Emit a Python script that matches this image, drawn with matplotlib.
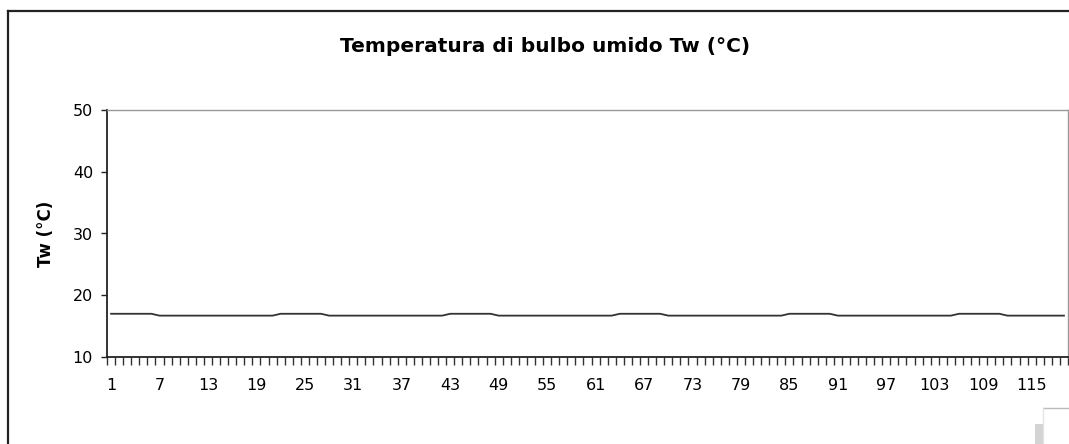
import matplotlib.pyplot as plt
from matplotlib.patches import Rectangle
from matplotlib.lines import Line2D

plt.rcParams['font.family'] = ['DejaVu Sans']

# one value per sample, 119 samples
high = 17.0
low = 16.7
tw = [high] * 6 + ([low] * 15 + [high] * 6) * 5 + [low] * 8
giorni = list(range(1, len(tw) + 1))
etichette = list(range(1, 116, 6))
y_ticks = [10, 20, 30, 40, 50]

W, H = 1069, 444
fig = plt.figure(figsize=(W / 100, H / 100), dpi=100)


def fx(px):
    return px / W


def fy(py):
    return 1 - py / H


# outer chart border (left and top only visible)
fig.add_artist(Line2D([fx(8), fx(8)], [fy(11), 0], color='#222222', lw=1.6))
fig.add_artist(Line2D([fx(8), 1], [fy(11), fy(11)], color='#222222', lw=1.6))

ax = fig.add_axes([fx(107), fy(357), fx(1068) - fx(107), fy(110) - fy(357)])
ax.plot(giorni, tw, color='#333333', lw=1.3)

ax.set_xlim(0.5, len(tw) + 0.5)
ax.set_ylim(10, 50)
ax.set_yticks(y_ticks)
ax.set_xticks(etichette)
ax.set_xticklabels([str(e) for e in etichette])
ax.set_xticks([i + 0.5 for i in range(len(tw) + 1)], minor=True)
ax.tick_params(axis='x', which='major', length=0, pad=15, labelsize=11.5)
ax.tick_params(axis='x', which='minor', length=5.5, width=1, color='#333333')
ax.tick_params(axis='y', which='major', length=4, width=1, color='#222222', labelsize=11.5, pad=6)

for s in ['top', 'right']:
    ax.spines[s].set_color('#999999')
    ax.spines[s].set_linewidth(1)
for s in ['left', 'bottom']:
    ax.spines[s].set_color('#222222')
    ax.spines[s].set_linewidth(1.3)

ax.set_ylabel('Tw (°C)', fontsize=12, fontweight='bold', labelpad=13)
fig.text(fx(545), fy(47), 'Temperatura di bulbo umido Tw (°C)', ha='center', va='center',
         fontsize=14.5, fontweight='bold')

# little grey artefact in the bottom right corner
fig.add_artist(Rectangle((fx(1035), 0), fx(8), fy(424), color='#d4d4d4', lw=0))
fig.add_artist(Line2D([fx(1043), 1], [fy(408), fy(408)], color='#bbbbbb', lw=1))
fig.add_artist(Line2D([fx(1043), fx(1043)], [fy(408), 0], color='#e4e4e4', lw=1))

fig.savefig('out.png', dpi=100)
